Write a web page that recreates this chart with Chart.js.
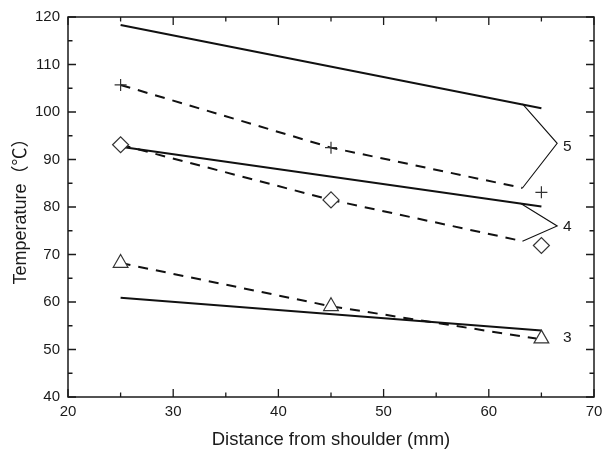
<!DOCTYPE html>
<html>
<head>
<meta charset="utf-8">
<script src="https://cdn.jsdelivr.net/npm/chart.js@4"></script>
<style>
  html, body { margin: 0; padding: 0; background: #fff; }
  #wrap { width: 615px; height: 456px; }
</style>
</head>
<body>
<div id="wrap"><canvas id="tempChart" width="615" height="456"></canvas></div>
<script>
// measured points (distance from shoulder, mm)
const distances = [25, 45, 65];
const crossTemps = [105.7, 92.5, 83.1];
const diamondTemps = [93.1, 81.5, 71.9];
const triangleTemps = [68.2, 59.1, 52.3];

// solid lines
const solidX = [25, 65];
const solid5 = [118.3, 100.8];
const solid4 = [92.7, 80.1];
const solid3 = [60.9, 54.0];

// dashed lines
const dash5X = [25, 45, 63.2];
const dash5 = [105.7, 92.5, 84.0];
const dash4X = [25, 45, 63.2];
const dash4 = [93.1, 81.5, 72.8];
const dash3X = [25, 45, 64.5];
const dash3 = [68.2, 59.1, 52.3];

// brackets joining the pairs
const bracket5X = [63.2, 66.5, 63.2];
const bracket5 = [101.7, 93.4, 84.0];
const bracket4X = [63.0, 66.5, 63.2];
const bracket4 = [80.8, 76.0, 72.8];

// pair labels
const pairLabels = ['5', '4', '3'];
const pairLabelX = [67.05, 67.05, 67.05];
const pairLabelY = [92.6, 75.9, 52.5];

const xTicks = [20, 30, 40, 50, 60, 70];
const yTicks = [40, 50, 60, 70, 80, 90, 100, 110, 120];

const fontFamily = '"Liberation Sans", Arial, "Noto Sans CJK SC", sans-serif';

function pts(xs, ys) {
    return xs.map((x, i) => ({ x: x, y: ys[i] }));
}

function markerSet(ys, style, radius) {
    return {
        data: pts(distances, ys),
        showLine: false,
        pointStyle: style,
        pointRadius: radius,
        pointBorderColor: '#333',
        pointBackgroundColor: '#fff',
        pointBorderWidth: 1.2
    };
}

function lineSet(xs, ys, dashed, width) {
    return {
        data: pts(xs, ys),
        showLine: true,
        borderColor: '#111',
        borderWidth: width,
        borderDash: dashed ? [10, 8] : [],
        pointRadius: 0,
        tension: 0,
        fill: false
    };
}

// frame, inward ticks and the pair labels
const framePlugin = {
    id: 'frame',
    afterDraw(chart) {
        const ctx = chart.ctx;
        const a = chart.chartArea;
        const xs = chart.scales.x;
        const ys = chart.scales.y;
        ctx.save();
        ctx.strokeStyle = '#1a1a1a';
        ctx.lineWidth = 1.5;
        ctx.strokeRect(a.left, a.top, a.right - a.left, a.bottom - a.top);

        ctx.lineWidth = 1.3;
        ctx.beginPath();
        xs.ticks.forEach(t => {
            const px = xs.getPixelForValue(t.value);
            const len = t.value % 10 === 0 ? 8 : 4.5;
            ctx.moveTo(px, a.bottom); ctx.lineTo(px, a.bottom - len);
            ctx.moveTo(px, a.top); ctx.lineTo(px, a.top + len);
        });
        ys.ticks.forEach(t => {
            const py = ys.getPixelForValue(t.value);
            const len = t.value % 10 === 0 ? 8 : 4.5;
            ctx.moveTo(a.left, py); ctx.lineTo(a.left + len, py);
            ctx.moveTo(a.right, py); ctx.lineTo(a.right - len, py);
        });
        ctx.stroke();

        ctx.fillStyle = '#1a1a1a';
        ctx.font = '15.5px ' + fontFamily;
        ctx.textAlign = 'left';
        ctx.textBaseline = 'middle';
        pairLabels.forEach((lab, i) => {
            ctx.fillText(lab, xs.getPixelForValue(pairLabelX[i]), ys.getPixelForValue(pairLabelY[i]));
        });
        ctx.restore();
    }
};

new Chart(document.getElementById('tempChart'), {
    type: 'scatter',
    data: {
        datasets: [
            markerSet(crossTemps, 'cross', 6),
            markerSet(diamondTemps, 'rectRot', 8),
            markerSet(triangleTemps, 'triangle', 8.5),
            lineSet(solidX, solid5, false, 2),
            lineSet(solidX, solid4, false, 2),
            lineSet(solidX, solid3, false, 2),
            lineSet(dash5X, dash5, true, 2),
            lineSet(dash4X, dash4, true, 2),
            lineSet(dash3X, dash3, true, 2),
            lineSet(bracket5X, bracket5, false, 1.1),
            lineSet(bracket4X, bracket4, false, 1.1)
        ]
    },
    options: {
        responsive: false,
        animation: false,
        layout: { padding: { left: 0, top: 16, right: 21, bottom: 0 } },
        plugins: {
            legend: { display: false },
            tooltip: { enabled: false }
        },
        scales: {
            x: {
                type: 'linear',
                min: 20, max: 70,
                afterFit: (s) => { s.height = 59; },
                grid: { display: false, drawTicks: false },
                border: { display: false },
                ticks: {
                    stepSize: 5,
                    padding: 6,
                    color: '#1a1a1a',
                    font: { family: fontFamily, size: 15 },
                    callback: (v) => xTicks.includes(v) ? String(v) : ''
                },
                title: {
                    display: true,
                    text: 'Distance from shoulder (mm)',
                    color: '#1a1a1a',
                    font: { family: fontFamily, size: 18.5 },
                    padding: { top: 0, bottom: 5 }
                }
            },
            y: {
                type: 'linear',
                min: 40, max: 120,
                afterFit: (s) => { s.width = 68; },
                grid: { display: false, drawTicks: false },
                border: { display: false },
                ticks: {
                    stepSize: 5,
                    padding: 8,
                    color: '#1a1a1a',
                    font: { family: fontFamily, size: 15 },
                    callback: (v) => yTicks.includes(v) ? String(v) : ''
                },
                title: {
                    display: true,
                    text: 'Temperature（℃）',
                    color: '#1a1a1a',
                    font: { family: fontFamily, size: 18 },
                    padding: { top: 10, bottom: 0 }
                }
            }
        }
    },
    plugins: [framePlugin]
});
</script>
</body>
</html>
